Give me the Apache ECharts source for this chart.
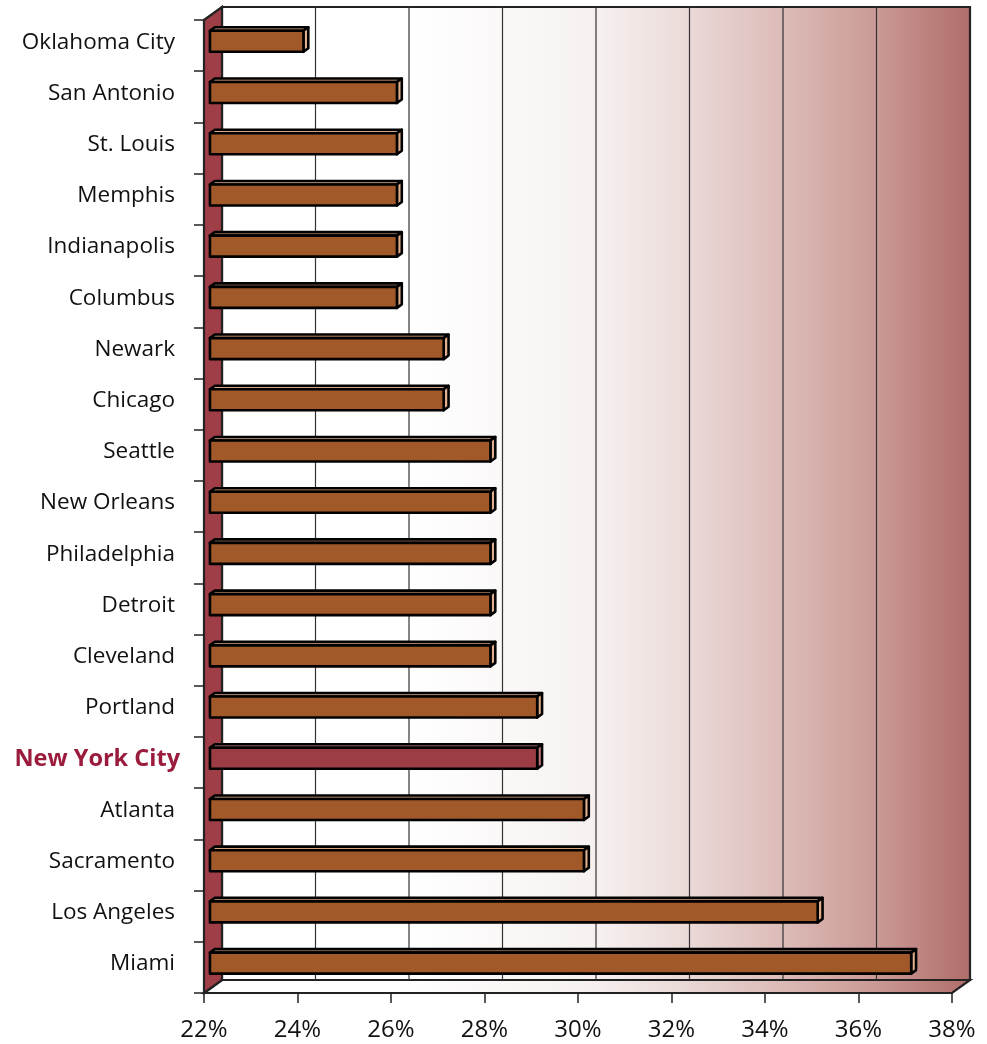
<!DOCTYPE html>
<html>
<head>
<meta charset="utf-8">
<style>
  html, body { margin: 0; padding: 0; background: #ffffff; }
  #chart { width: 987px; height: 1044px; }
</style>
<script src="https://cdn.jsdelivr.net/npm/echarts@6/dist/echarts.min.js"></script>
</head>
<body>
<div id="chart"></div>
<script>
// Cities, top to bottom
const cities = [
  'Oklahoma City', 'San Antonio', 'St. Louis', 'Memphis', 'Indianapolis',
  'Columbus', 'Newark', 'Chicago', 'Seattle', 'New Orleans',
  'Philadelphia', 'Detroit', 'Cleveland', 'Portland', 'New York City',
  'Atlanta', 'Sacramento', 'Los Angeles', 'Miami'
];
// Share in percent
const shares = [24, 26, 26, 26, 26, 26, 27, 27, 28, 28, 28, 28, 28, 29, 29, 30, 30, 35, 37];
const highlightCity = 'New York City';

const axisMin = 22;
const axisMax = 38;
const axisStep = 2;
const tickValues = [22, 24, 26, 28, 30, 32, 34, 36, 38];

// Depth of the 3-D box (back wall offset in pixels)
const DEPTH_X = 18;
const DEPTH_Y = -13;
// Bar depth range (fractions of the box depth)
const BAR_FRONT = 0.33;
const BAR_BACK = 0.6;
const BAR_HEIGHT = 21;

const chart = echarts.init(document.getElementById('chart'), null, { renderer: 'canvas' });

const wallStops = [
  { offset: 0, color: '#ffffff' },
  { offset: 0.25, color: '#ffffff' },
  { offset: 0.5, color: '#f6f1f0' },
  { offset: 0.625, color: '#ead9d7' },
  { offset: 0.75, color: '#dcbbb7' },
  { offset: 0.875, color: '#ca9995' },
  { offset: 1, color: '#b06d69' }
];

function renderWalls(params, api) {
  const n = cities.length;
  const tl = api.coord([axisMin, 0]);
  const br = api.coord([axisMax, n - 1]);
  const band = api.size([0, 1])[1];
  const left = tl[0];
  const right = br[0];
  const top = tl[1] - band / 2;
  const bottom = br[1] + band / 2;
  const dx = DEPTH_X, dy = DEPTH_Y;
  const children = [];
  // back wall
  children.push({
    type: 'rect',
    shape: { x: left + dx, y: top + dy, width: right - left, height: bottom - top },
    style: { fill: new echarts.graphic.LinearGradient(0, 0, 1, 0, wallStops), stroke: '#222', lineWidth: 2.2 }
  });
  // floor
  children.push({
    type: 'polygon',
    shape: { points: [[left, bottom], [left + dx, bottom + dy], [right + dx, bottom + dy], [right, bottom]] },
    style: { fill: new echarts.graphic.LinearGradient(0, 0, 1, 0, wallStops), stroke: '#222', lineWidth: 2.2 }
  });
  // grid lines on back wall
  tickValues.forEach(function (v, i) {
    if (i === 0 || i === tickValues.length - 1) return;
    const x = api.coord([v, 0])[0] + dx;
    children.push({
      type: 'line',
      shape: { x1: x, y1: top + dy, x2: x, y2: bottom + dy },
      style: { stroke: '#333', lineWidth: 1.2 }
    });
  });
  // left wall
  children.push({
    type: 'polygon',
    shape: { points: [[left, top], [left + dx, top + dy], [left + dx, bottom + dy], [left, bottom]] },
    style: { fill: '#9f3e46', stroke: '#222', lineWidth: 2.2 }
  });
  return { type: 'group', children: children };
}

function renderBar(params, api) {
  const idx = api.value(0);
  const val = api.value(1);
  const start = api.coord([axisMin, idx]);
  const end = api.coord([val, idx]);
  const hl = cities[idx] === highlightCity;
  const fx = DEPTH_X * BAR_FRONT, fy = DEPTH_Y * BAR_FRONT;
  const bx = DEPTH_X * BAR_BACK, by = DEPTH_Y * BAR_BACK;
  const cy = start[1];
  const y0 = cy + fy - BAR_HEIGHT / 2;
  const y1 = cy + fy + BAR_HEIGHT / 2;
  const x0 = start[0] + fx;
  const x1 = end[0] + fx;
  const ddx = bx - fx, ddy = by - fy;
  const stroke = { stroke: '#000', lineWidth: 2.6, lineJoin: 'round' };
  return {
    type: 'group',
    children: [
      {
        type: 'polygon',
        shape: { points: [[x0, y0], [x1, y0], [x1 + ddx, y0 + ddy], [x0 + ddx, y0 + ddy]] },
        style: Object.assign({ fill: hl ? '#c57c80' : '#d9a684' }, stroke)
      },
      {
        type: 'polygon',
        shape: { points: [[x1, y0], [x1 + ddx, y0 + ddy], [x1 + ddx, y1 + ddy], [x1, y1]] },
        style: Object.assign({ fill: hl ? '#c57c80' : '#e2b08f' }, stroke)
      },
      {
        type: 'rect',
        shape: { x: x0, y: y0, width: x1 - x0, height: y1 - y0 },
        style: Object.assign({ fill: hl ? '#9c3d46' : '#a2592a' }, stroke)
      }
    ]
  };
}

chart.setOption({
  animation: false,
  backgroundColor: '#ffffff',
  grid: { left: 204, right: 35, top: 20, bottom: 51, containLabel: false },
  xAxis: {
    type: 'value',
    min: axisMin,
    max: axisMax,
    interval: axisStep,
    axisLine: { show: true, lineStyle: { color: '#222', width: 2 } },
    axisTick: { show: true, length: 10, lineStyle: { color: '#222', width: 1.5 } },
    splitLine: { show: false },
    axisLabel: {
      margin: 25,
      formatter: '{value}%',
      color: '#111',
      fontSize: 24,
      fontFamily: 'Open Sans'
    }
  },
  yAxis: {
    type: 'category',
    data: cities,
    inverse: true,
    axisLine: { show: true, lineStyle: { color: '#222', width: 2 } },
    axisTick: { show: true, length: 10, alignWithLabel: false, lineStyle: { color: '#222', width: 1.5 } },
    splitLine: { show: false },
    axisLabel: {
      margin: 24,
      formatter: function (v) {
        return v === highlightCity ? '{hl|' + v + '}' : '{n|' + v + '}';
      },
      rich: {
        n: { color: '#111', fontSize: 22.5, fontFamily: 'Open Sans', padding: [0, 5, 7, 0] },
        hl: { color: '#9b1b3d', fontSize: 23.5, fontWeight: 'bold', fontFamily: 'Open Sans', padding: [0, 0, 7, 0] }
      }
    }
  },
  series: [
    {
      type: 'custom',
      name: 'walls',
      renderItem: renderWalls,
      data: [[0, 0]],
      clip: false,
      silent: true,
      z: 1
    },
    {
      type: 'custom',
      name: 'share',
      renderItem: renderBar,
      encode: { x: 1, y: 0 },
      data: shares.map(function (v, i) { return [i, v]; }),
      clip: false,
      z: 3
    }
  ]
});
</script>
</body>
</html>
